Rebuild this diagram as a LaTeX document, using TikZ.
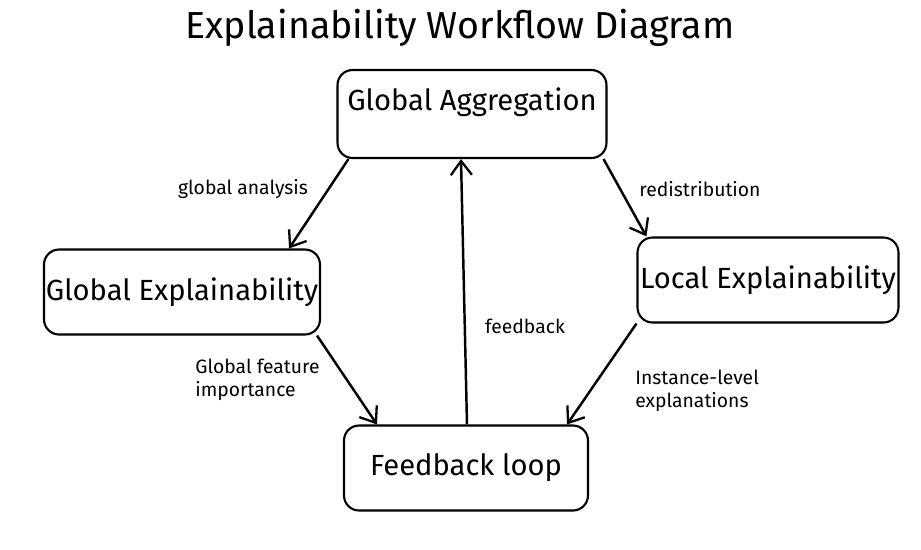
\documentclass[tikz,border=0pt]{standalone}
\usepackage{fontspec}
\setmainfont{Fira Sans}
\usetikzlibrary{positioning, arrows.meta}

\begin{document}
\begin{tikzpicture}[
    x=0.02cm, y=-0.02cm,
    stage/.style={draw, line width=1.2pt, rounded corners=0.3cm, font=\fontsize{16.6}{19}\selectfont,
        minimum height=1.7cm, inner sep=0pt},
    flow/.style={-{Straight Barb[length=8pt, width=12pt, line width=1.3pt]}, line width=1.4pt},
    lbl/.style={font=\fontsize{11}{13}\selectfont, align=left, inner sep=0pt},
]
\useasboundingbox (0,0) rectangle (921,549);

\node[font=\fontsize{21.4}{25}\selectfont] (title) at (460,28) {Explainability Workflow Diagram};

% the four stages
\node[stage, minimum width=5.38cm, minimum height=1.76cm, text height=0.8cm, text depth=0.96cm] (ga) at (472,114) {Global Aggregation};
\node[stage, minimum width=5.52cm] (ge) at (182,292) {Global Explainability};
\node[stage, minimum width=5.22cm] (le) at (768,280) {Local Explainability};
\node[stage, minimum width=4.88cm] (fl) at (466,468) {Feedback loop};

% connectors
\draw[flow] ([xshift=0.24cm]ga.south west) -- ([xshift=-0.64cm]ge.north east);
\draw[flow] ([xshift=-0.08cm]ga.south east) -- ([xshift=0.2cm]le.north west);
\draw[flow] ([xshift=0.02cm]fl.north) -- ([xshift=-0.22cm]ga.south);
\draw[flow] ([xshift=-0.08cm]ge.south east) -- ([xshift=0.68cm]fl.north west);
\draw[flow] (le.south west) -- ([xshift=-0.44cm]fl.north east);

% labels
\node[lbl] (lga)  at (243,189) {global analysis};
\node[lbl] (lred) at (700,189) {redistribution};
\node[lbl] (lfb)  at (525,326) {feedback};
\node[lbl, anchor=west] (lgfi) at (195,380) {Global feature\\importance};
\node[lbl, anchor=west] (lile) at (635,391) {Instance-level\\explanations};
\end{tikzpicture}
\end{document}
